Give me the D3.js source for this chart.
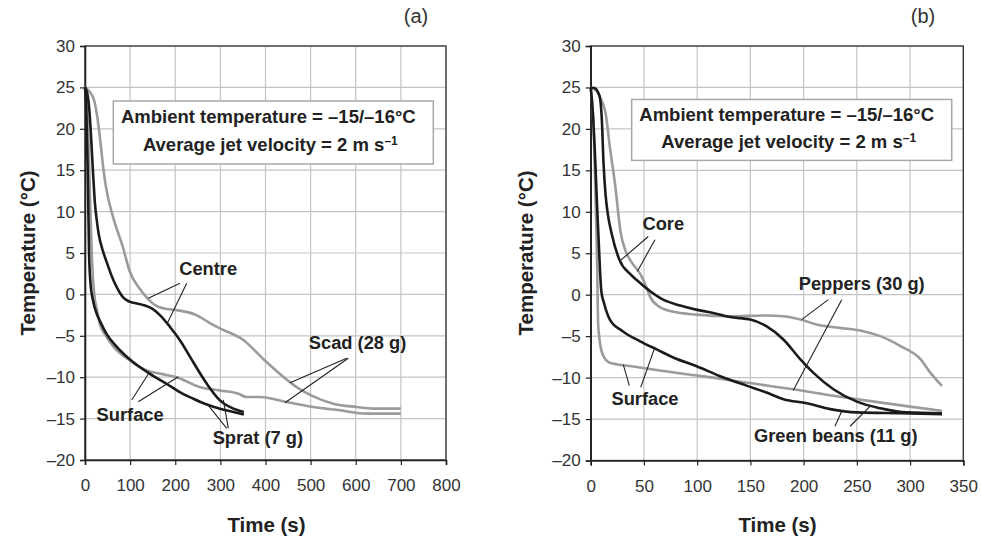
<!DOCTYPE html>
<html><head><meta charset="utf-8">
<script src="https://cdn.jsdelivr.net/npm/d3@7"></script>
<style>
html,body{margin:0;padding:0;background:#fff;}
svg{display:block;}
text{font-family:"Liberation Sans",Arial,Helvetica,sans-serif;}
</style></head>
<body>
<svg id="chart" width="981" height="538"></svg>
<script>
// ---------- DATA ----------
const yTicks = [-20,-15,-10,-5,0,5,10,15,20,25,30];
const xTicksA = [0,100,200,300,400,500,600,700,800];
const xTicksB = [0,50,100,150,200,250,300,350];
const yLabel = "Temperature (\u00B0C)";
const xLabel = "Time (s)";
const boxLine1 = "Ambient temperature = \u201315/\u201316\u00B0C";
const boxLine2 = "Average jet velocity = 2 m s";
const boxSup = "\u20131";

// Panel (a): sprat (black) and scad (grey) — [time s, temperature °C]
const spratCentre = [[0,25],[5,24.3],[10,22],[14,18.5],[18,14.5],[22,11],[26,9],[30,7.4],[40,5.2],[48,3.9],[60,2.1],[70,0.9],[85,-0.4],[100,-0.9],[115,-1.1],[130,-1.3],[148,-1.7],[166,-2.5],[188,-3.9],[210,-5.5],[240,-8.2],[270,-10.8],[299,-12.8],[329,-13.8],[352,-14.2]];
const spratSurface = [[0,25],[3,22],[6,15],[9,5],[12,1.5],[18,-0.8],[25,-2.2],[33,-3.2],[48,-4.8],[70,-6.3],[107,-8.2],[144,-9.6],[181,-10.8],[210,-11.8],[240,-12.6],[270,-13.3],[299,-13.8],[329,-14.2],[352,-14.5]];
const scadCentre = [[0,25],[10,24.5],[21,23.3],[27,21.5],[33,19],[40,15.5],[47,12.8],[62,9.4],[84,5.7],[99,2.8],[121,0.7],[137,-0.4],[158,-1.4],[175,-1.7],[203,-1.9],[247,-2.5],[275,-3.4],[299,-4.1],[351,-5.5],[395,-7.8],[432,-9.6],[469,-11.2],[501,-12.2],[550,-13.2],[602,-13.6],[639,-13.8],[700,-13.8]];
const scadSurface = [[0,25],[4,23],[8,18],[12,10],[16,3.5],[20,0.3],[27,-2],[33,-3.6],[45,-4.9],[63,-6.3],[100,-8.0],[137,-9.2],[170,-9.6],[203,-10.0],[255,-11.2],[299,-11.6],[340,-12.0],[358,-12.4],[388,-12.4],[447,-13.0],[506,-13.6],[565,-14.0],[624,-14.4],[700,-14.4]];

// Panel (b): green beans (black) and peppers (grey)
const beansCore = [[0,25],[4,24.9],[7,24.4],[9,23.5],[10.5,21],[12,16],[14,12],[16,9.8],[20,7.2],[27,4.2],[37,2.5],[43,1.8],[52,0.8],[68,-0.6],[84,-1.3],[99,-1.8],[115,-2.2],[131,-2.7],[150,-3.0],[165,-3.8],[181,-5.4],[197,-7.8],[209,-9.4],[228,-11.4],[250,-12.9],[272,-13.7],[297,-14.2],[330,-14.3]];
const beansSurface = [[0,25],[2,22],[4,17],[6,10.7],[8,5],[10,0.4],[12.5,-1],[18,-3.0],[30,-4.4],[46,-5.6],[62,-6.6],[78,-7.6],[99,-8.6],[121,-9.8],[147,-11.0],[165,-11.8],[181,-12.6],[203,-13.1],[225,-13.8],[250,-14.2],[290,-14.3],[330,-14.4]];
const peppersCore = [[0,25],[6,24.5],[10,23.5],[14,21.9],[18,17.8],[23,13.2],[28,7.6],[33,5.2],[38,4.0],[47,2.4],[52,1.0],[56,-0.3],[65,-1.5],[79,-2.1],[99,-2.4],[131,-2.6],[165,-2.5],[181,-2.6],[200,-3.1],[212,-3.6],[234,-4.0],[256,-4.4],[272,-5.0],[291,-6.2],[310,-7.8],[319,-9.4],[330,-11.0]];
const peppersSurface = [[0,25],[2,22],[3,19],[4.5,12],[6,4],[7,-3.5],[8.5,-5.6],[11.6,-7.3],[18,-8.2],[37,-8.6],[68,-9.2],[90,-9.6],[115,-10.0],[146,-10.6],[190,-11.4],[228,-12.2],[266,-12.9],[300,-13.5],[330,-14.0]];

// Annotation labels: [text, t, T] and leader lines [t1,T1,t2,T2]
const labelsA = [["Centre",273,3.1],["Surface",100,-14.45],["Sprat (7 g)",383,-17.3],["Scad (28 g)",604,-5.85]];
const leadersA = [[210.5,1.34,140.3,-0.47],[225.4,1.34,182.4,-3.49],[103.5,-12.75,140.3,-9.61],[118.1,-12.96,206.8,-9.94],[314,-16.17,269.7,-13.15],[317.6,-16.17,306.5,-12.75],[580,-7.72,454.3,-10.66],[583.5,-7.72,443.2,-13.08]];
const labelsB = [["Core",68.2,8.55],["Peppers (30 g)",254.6,1.33],["Surface",51,-12.5],["Green beans (11 g)",230.2,-17.0]];
const leadersB = [[54.1,7.02,26.9,4.01],[60.4,6.63,43.8,2.81],[223.2,-0.6,198.2,-3.01],[235.8,-0.6,190.3,-11.53],[36.3,-10.96,30.6,-8.43],[47,-11.17,60.4,-6.3],[229.5,-15.87,235.8,-14.06],[243.6,-15.87,262.4,-13.46]];
// Info box extents in data units: [t0, T0, t1, T1]
const boxA = [62.7,23.36,771.9,15.75];
const boxB = [38.5,23.55,339.1,16.2];

// ---------- DRAW ----------
const svg = d3.select("#chart");
const BLACK = "#1b1b1b", GREY = "#9b9b9b", GRID = "#c4c4c4", TXT = "#222";

function panel(o){
  const x = d3.scaleLinear().domain(o.xDomain).range([o.left, o.right]);
  const y = d3.scaleLinear().domain([-20,30]).range([o.bottom, o.top]);
  const g = svg.append("g");
  // grid
  g.selectAll(".gx").data(o.xTicks).join("line")
    .attr("x1",d=>x(d)).attr("x2",d=>x(d)).attr("y1",o.top).attr("y2",o.bottom)
    .attr("stroke",GRID).attr("stroke-width",1.2);
  g.selectAll(".gy").data(yTicks).join("line")
    .attr("y1",d=>y(d)).attr("y2",d=>y(d)).attr("x1",o.left).attr("x2",o.right)
    .attr("stroke",GRID).attr("stroke-width",1.2);
  // frame
  g.append("rect").attr("x",o.left).attr("y",o.top).attr("width",o.right-o.left).attr("height",o.bottom-o.top)
    .attr("fill","none").attr("stroke","#333").attr("stroke-width",1.3);
  // axes
  const ax = d3.axisBottom(x).tickValues(o.xTicks).tickSize(5).tickPadding(14).tickFormat(d3.format("d"));
  const ay = d3.axisLeft(y).tickValues(yTicks).tickSize(5).tickPadding(5)
      .tickFormat(d => d<0 ? "\u2013"+Math.abs(d) : d);
  const gx = g.append("g").attr("transform",`translate(0,${o.bottom})`).call(ax);
  const gy = g.append("g").attr("transform",`translate(${o.left},0)`).call(ay);
  [gx,gy].forEach(a=>{
    a.select(".domain").attr("stroke","#222").attr("stroke-width",1.6);
    a.selectAll(".tick line").attr("stroke","#222").attr("stroke-width",1.2);
    a.selectAll(".tick text").attr("font-size",17).attr("fill","#333")
      .attr("font-family","'Liberation Sans',Arial,sans-serif");
  });
  // info box
  const bx0=x(o.box[0]), by0=y(o.box[1]), bx1=x(o.box[2]), by1=y(o.box[3]);
  g.append("rect").attr("x",bx0).attr("y",by0).attr("width",bx1-bx0).attr("height",by1-by0)
    .attr("fill","#fff").attr("stroke","#a8a8a8").attr("stroke-width",1.5);
  const cx=(bx0+bx1)/2, cy=(by0+by1)/2;
  g.append("text").attr("x",cx-5).attr("y",cy-15.5+6.5).attr("text-anchor","middle")
    .attr("font-size",18.5).attr("font-weight","bold").attr("fill",TXT).text(boxLine1);
  const t2 = g.append("text").attr("x",cx-3).attr("y",cy+12+6.5).attr("text-anchor","middle")
    .attr("font-size",18.5).attr("font-weight","bold").attr("fill",TXT);
  t2.append("tspan").text(boxLine2);
  t2.append("tspan").attr("dy",-6).attr("font-size",12).text(boxSup);
  // curves
  const line = d3.line().x(d=>x(d[0])).y(d=>y(d[1])).curve(d3.curveMonotoneX);
  o.series.forEach(s=>{
    g.append("path").datum(s.data).attr("d",line).attr("fill","none")
      .attr("stroke",s.color).attr("stroke-width",2.6).attr("stroke-linejoin","round");
  });
  // leaders
  g.selectAll(".ld").data(o.leaders).join("line")
    .attr("x1",d=>x(d[0])).attr("y1",d=>y(d[1])).attr("x2",d=>x(d[2])).attr("y2",d=>y(d[3]))
    .attr("stroke","#222").attr("stroke-width",1.1);
  // labels
  g.selectAll(".lb").data(o.labels).join("text")
    .attr("x",d=>x(d[1])).attr("y",d=>y(d[2])+6.5).attr("text-anchor","middle")
    .attr("font-size",18.3).attr("font-weight","bold").attr("fill",TXT).text(d=>d[0]);
  // axis titles
  g.append("text").attr("x",(o.left+o.right)/2+o.xtOff).attr("y",532).attr("text-anchor","middle")
    .attr("font-size",20.5).attr("font-weight","bold").attr("fill",TXT).text(xLabel);
  g.append("text").attr("transform",`translate(${o.ytX},253) rotate(-90)`).attr("text-anchor","middle")
    .attr("font-size",20.5).attr("font-weight","bold").attr("fill",TXT).text(yLabel);
  g.append("text").attr("x",o.tagX).attr("y",23).attr("text-anchor","middle")
    .attr("font-size",20).attr("fill","#333").text(o.tag);
}

panel({xDomain:[0,800], left:85, right:446, top:46, bottom:460, xTicks:xTicksA, box:boxA,
  series:[{data:scadCentre,color:GREY},{data:scadSurface,color:GREY},{data:spratSurface,color:BLACK},{data:spratCentre,color:BLACK}],
  leaders:leadersA, labels:labelsA, xtOff:1, ytX:35, tagX:416, tag:"(a)"});
panel({xDomain:[0,350], left:590.7, right:963.3, top:46, bottom:460.5, xTicks:xTicksB, box:boxB,
  series:[{data:peppersCore,color:GREY},{data:peppersSurface,color:GREY},{data:beansSurface,color:BLACK},{data:beansCore,color:BLACK}],
  leaders:leadersB, labels:labelsB, xtOff:0.5, ytX:533, tagX:923, tag:"(b)"});
</script>
</body></html>
